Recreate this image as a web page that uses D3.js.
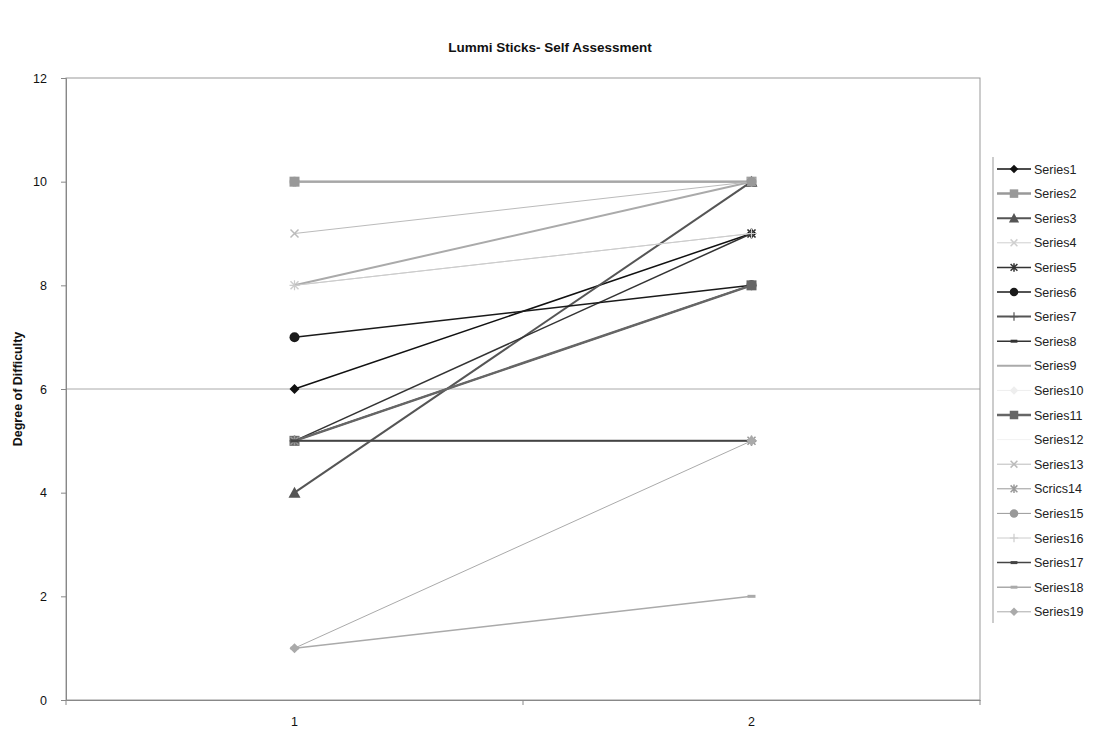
<!DOCTYPE html>
<html><head><meta charset="utf-8">
<script src="https://cdn.jsdelivr.net/npm/d3@7"></script>
<style>body{margin:0;background:#fff}svg{display:block}</style>
</head><body>
<svg id="c" width="1101" height="730"></svg>
<script>
const title = "Lummi Sticks- Self Assessment";
const yTitle = "Degree of Difficulty";
const categories = ["1", "2"];
const yTicks = [0, 2, 4, 6, 8, 10, 12];
const seriesNames = ["Series1","Series2","Series3","Series4","Series5","Series6","Series7","Series8","Series9","Series10","Series11","Series12","Series13","Scrics14","Series15","Series16","Series17","Series18","Series19"];
const seriesValues = [
  [6, 9], [10, 10], [4, 10], [8, 9], [5, 9], [7, 8], [5, 5], [5, 8], [8, 10], [10, 10],
  [5, 8], [10, 10], [9, 10], [5, 5], [10, 10], [8, 9], [5, 5], [1, 2], [1, 5]
];
const seriesColors = ["#111","#999","#555","#cfcfcf","#333","#1a1a1a","#555","#333","#aaa","#eee","#666","#f2f2f2","#bbb","#999","#999","#ccc","#444","#aaa","#aaa"];
const seriesWidths = [1.5,2.5,2,1,1.5,1.5,2,1.5,2,1,2.5,1,1,1,1,1,1.5,1.5,1];
const seriesMarkers = ["diamond","square","triangle","x","asterisk","circle","plus","dash","none","diamond","square","none","x","asterisk","circle","plus","dash","dash","diamond"];

const svg = d3.select("#c");
const L = 66, R = 980, T = 78, B = 700;
const x = d3.scaleBand().domain(categories).range([L, R]);
const y = d3.scaleLinear().domain([0, 12]).range([B, T]);
const font = "Liberation Sans, Arial, sans-serif";

svg.append("text").attr("x", 550).attr("y", 52).attr("text-anchor", "middle")
  .attr("font-family", font).attr("font-weight", "bold").attr("font-size", 13.5).attr("fill", "#111").text(title);

svg.append("line").attr("x1", L).attr("x2", R).attr("y1", y(6)).attr("y2", y(6)).attr("stroke", "#aaa").attr("stroke-width", 1);
svg.append("rect").attr("x", L).attr("y", T).attr("width", R - L).attr("height", B - T)
  .attr("fill", "none").attr("stroke", "#999").attr("stroke-width", 1);

const ya = svg.append("g").attr("transform", `translate(${L},0)`)
  .call(d3.axisLeft(y).tickValues(yTicks).tickSize(5).tickPadding(14));
ya.select(".domain").attr("stroke", "#888");
ya.selectAll(".tick line").attr("stroke", "#888");
ya.selectAll("text").attr("font-family", font).attr("font-size", 12.5).attr("fill", "#111");

const xa = svg.append("g").attr("transform", `translate(0,${B})`)
  .call(d3.axisBottom(x).tickSize(0).tickPadding(17));
xa.select(".domain").attr("stroke", "#888");
xa.selectAll("text").attr("font-family", font).attr("font-size", 12.5).attr("fill", "#111");
const bounds = [L, L + x.step(), R];
svg.append("g").selectAll("line").data(bounds).join("line")
  .attr("x1", d => d).attr("x2", d => d).attr("y1", B).attr("y2", B + 5).attr("stroke", "#888");

svg.append("text").attr("transform", `translate(22,${y(6)}) rotate(-90)`).attr("text-anchor", "middle")
  .attr("font-family", font).attr("font-weight", "bold").attr("font-size", 12.5).attr("fill", "#111").text(yTitle);

function marker(g, type, cx, cy, color, s) {
  s = s || 1;
  if (type === "diamond") g.append("path").attr("d", `M${cx},${cy-5*s}L${cx+5*s},${cy}L${cx},${cy+5*s}L${cx-5*s},${cy}Z`).attr("fill", color);
  else if (type === "square") g.append("rect").attr("x", cx-5*s).attr("y", cy-5*s).attr("width", 10*s).attr("height", 10*s).attr("fill", color);
  else if (type === "triangle") g.append("path").attr("d", `M${cx},${cy-6*s}L${cx+6*s},${cy+5*s}L${cx-6*s},${cy+5*s}Z`).attr("fill", color);
  else if (type === "circle") g.append("circle").attr("cx", cx).attr("cy", cy).attr("r", 5*s).attr("fill", color);
  else if (type === "x") g.append("path").attr("d", `M${cx-4*s},${cy-4*s}L${cx+4*s},${cy+4*s}M${cx-4*s},${cy+4*s}L${cx+4*s},${cy-4*s}`).attr("stroke", color).attr("stroke-width", 1.5);
  else if (type === "asterisk") g.append("path").attr("d", `M${cx-4*s},${cy-4*s}L${cx+4*s},${cy+4*s}M${cx-4*s},${cy+4*s}L${cx+4*s},${cy-4*s}M${cx},${cy-5*s}L${cx},${cy+5*s}`).attr("stroke", color).attr("stroke-width", 1.5);
  else if (type === "plus") g.append("path").attr("d", `M${cx-5*s},${cy}L${cx+5*s},${cy}M${cx},${cy-5*s}L${cx},${cy+5*s}`).attr("stroke", color).attr("stroke-width", 1.2);
  else if (type === "dash") g.append("path").attr("d", `M${cx-4*s},${cy}L${cx+4*s},${cy}`).attr("stroke", color).attr("stroke-width", 3);
}

const cx = c => x(c) + x.bandwidth() / 2;
const line = d3.line().x((d, i) => cx(categories[i])).y(d => y(d));
const plot = svg.append("g");
seriesValues.forEach((vals, si) => {
  const g = plot.append("g");
  g.append("path").datum(vals).attr("d", line).attr("fill", "none")
    .attr("stroke", seriesColors[si]).attr("stroke-width", seriesWidths[si]);
  vals.forEach((v, i) => marker(g, seriesMarkers[si], cx(categories[i]), y(v), seriesColors[si]));
});

const lg = svg.append("g");
lg.append("line").attr("x1", 993).attr("x2", 993).attr("y1", 157).attr("y2", 623).attr("stroke", "#999");
seriesNames.forEach((n, i) => {
  const ly = 169 + i * 24.6;
  lg.append("line").attr("x1", 997).attr("x2", 1031).attr("y1", ly).attr("y2", ly)
    .attr("stroke", seriesColors[i]).attr("stroke-width", Math.min(seriesWidths[i], 3));
  marker(lg, seriesMarkers[i], 1014, ly, seriesColors[i], 0.85);
  lg.append("text").attr("x", 1034).attr("y", ly + 4.5).attr("font-family", font).attr("font-size", 12.5)
    .attr("fill", "#222").text(n);
});
</script>
</body></html>
